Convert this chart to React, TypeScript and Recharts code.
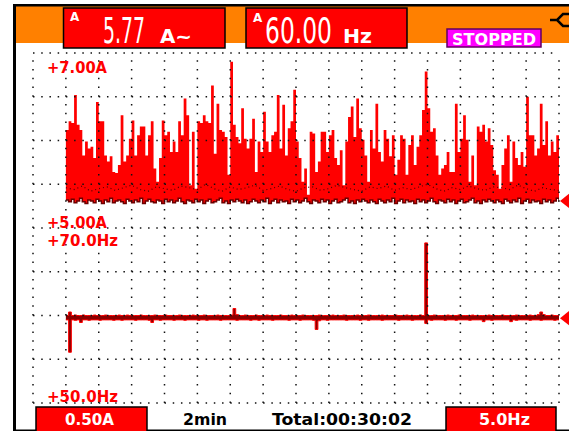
import React from "react";
import {
  ComposedChart,
  Area,
  Line,
  XAxis,
  YAxis,
  ReferenceLine,
  ReferenceDot,
} from "recharts";

// one sample every 10 s, 30 min record
const SAMPLE_SEC = 10;

// current envelope (A): max and min per sample
const AMP_MAX = [
  6.12, 6.22, 6.2, 6.52, 6.18, 6.12, 5.83, 5.99, 5.91, 5.93,
  5.8, 6.44, 6.22, 6.22, 5.83, 5.76, 5.82, 5.64, 5.63, 5.72,
  6.29, 5.76, 5.83, 6.02, 6.23, 5.83, 6.06, 6.16, 6.16, 5.83,
  6.06, 6.22, 5.68, 5.53, 5.8, 6.23, 6.06, 6.1, 5.87, 5.99,
  5.87, 6.22, 6.06, 6.48, 6.29, 5.49, 6.1, 5.45, 6.22, 6.2,
  6.29, 6.22, 6.2, 6.63, 5.85, 6.42, 6.12, 6.1, 6.04, 5.61,
  6.9, 6.18, 6.04, 5.97, 6.37, 6.02, 5.91, 6.02, 6.25, 5.64,
  5.99, 5.87, 6.33, 5.99, 5.87, 6.06, 6.1, 6.52, 5.91, 6.41,
  5.83, 6.14, 6.22, 6.58, 5.99, 5.8, 5.53, 5.68, 5.38, 6.1,
  6.08, 5.64, 5.76, 6.1, 6.1, 5.87, 6.06, 6.12, 5.8, 5.72,
  5.89, 5.49, 5.99, 6.27, 6.39, 6.04, 6.48, 6.14, 6.01, 5.83,
  5.53, 6.12, 5.91, 6.42, 5.87, 5.76, 6.12, 6.02, 5.82, 6.06,
  5.61, 5.78, 6.06, 6.02, 5.61, 5.95, 6.06, 5.72, 5.93, 6.06,
  6.35, 6.79, 6.37, 6.1, 6.14, 5.83, 5.61, 5.68, 5.72, 5.87,
  5.64, 5.64, 6.42, 5.87, 6.02, 6.29, 6.01, 5.53, 5.83, 5.49,
  6.16, 6.1, 6.18, 5.99, 6.14, 5.95, 5.66, 5.61, 5.45, 5.72,
  5.91, 6.06, 5.53, 5.99, 5.8, 5.72, 5.87, 5.7, 6.5, 6.06,
  6.06, 5.83, 5.91, 6.42, 5.95, 6.22, 5.83, 5.99, 5.87, 6.06,
  5.76,
];

const AMP_MIN = [
  5.32, 5.3, 5.33, 5.29, 5.31, 5.34, 5.3, 5.28, 5.32, 5.31,
  5.29, 5.33, 5.31, 5.28, 5.32, 5.3, 5.34, 5.29, 5.31, 5.32,
  5.3, 5.28, 5.33, 5.31, 5.29, 5.32, 5.3, 5.34, 5.28, 5.31,
  5.33, 5.3, 5.29, 5.32, 5.31, 5.28, 5.33, 5.3, 5.32, 5.29,
  5.31, 5.34, 5.3, 5.28, 5.32, 5.31, 5.29, 5.33, 5.3, 5.32,
  5.28, 5.31, 5.33, 5.29, 5.3, 5.32, 5.34, 5.29, 5.31, 5.28,
  5.32, 5.3, 5.33, 5.31, 5.29, 5.32, 5.28, 5.3, 5.33, 5.31,
  5.29, 5.32, 5.3, 5.34, 5.28, 5.31, 5.33, 5.29, 5.32, 5.3,
  5.31, 5.28, 5.33, 5.3, 5.32, 5.29, 5.31, 5.34, 5.3, 5.28,
  5.32, 5.31, 5.29, 5.33, 5.3, 5.32, 5.28, 5.31, 5.33, 5.29,
  5.3, 5.32, 5.34, 5.29, 5.31, 5.28, 5.32, 5.3, 5.33, 5.31,
  5.29, 5.32, 5.3, 5.28, 5.33, 5.31, 5.29, 5.32, 5.3, 5.34,
  5.28, 5.31, 5.33, 5.29, 5.32, 5.3, 5.31, 5.28, 5.33, 5.3,
  5.32, 5.29, 5.31, 5.34, 5.3, 5.28, 5.32, 5.31, 5.29, 5.33,
  5.3, 5.32, 5.28, 5.31, 5.33, 5.29, 5.3, 5.32, 5.34, 5.29,
  5.31, 5.28, 5.32, 5.3, 5.33, 5.31, 5.29, 5.32, 5.3, 5.28,
  5.33, 5.31, 5.29, 5.32, 5.3, 5.34, 5.28, 5.31, 5.33, 5.29,
  5.32, 5.3, 5.31, 5.28, 5.33, 5.3, 5.32, 5.29, 5.31, 5.34,
  5.3,
];

// average current, one value every 3rd sample
const AMP_AVG = [
  5.46, 5.44, 5.48, 5.42, 5.45, 5.47, 5.43, 5.46, 5.49, 5.44,
  5.42, 5.47, 5.45, 5.43, 5.48, 5.46, 5.44, 5.5, 5.45, 5.42,
  5.47, 5.44, 5.46, 5.49, 5.43, 5.45, 5.48, 5.44, 5.42, 5.46,
  5.47, 5.43, 5.45, 5.49, 5.46, 5.44, 5.42, 5.47, 5.45, 5.48,
  5.43, 5.46, 5.44, 5.47, 5.5, 5.45, 5.42, 5.46, 5.44, 5.48,
  5.45, 5.43, 5.47, 5.46, 5.44, 5.49, 5.45, 5.42, 5.46, 5.44,
  5.43,
];

// frequency envelope (Hz)
const HZ_MAX = [
  60.0, 60.4, 60.0, 60.05, 60.0, 60.0, 60.05, 60.0, 60.0, 60.0,
  60.05, 60.0, 60.0, 60.0, 60.05, 60.0, 60.0, 60.0, 60.0, 60.05,
  60.0, 60.0, 60.05, 60.0, 60.0, 60.0, 60.0, 60.05, 60.0, 60.0,
  60.0, 60.0, 60.05, 60.0, 60.0, 60.0, 60.05, 60.0, 60.0, 60.0,
  60.0, 60.05, 60.0, 60.0, 60.0, 60.0, 60.05, 60.0, 60.0, 60.0,
  60.05, 60.0, 60.0, 60.0, 60.0, 60.05, 60.0, 60.0, 60.0, 60.0,
  60.05, 60.8, 60.1, 60.0, 60.0, 60.05, 60.0, 60.0, 60.0, 60.05,
  60.0, 60.0, 60.0, 60.05, 60.0, 60.0, 60.0, 60.0, 60.05, 60.0,
  60.0, 60.0, 60.05, 60.0, 60.0, 60.0, 60.05, 60.0, 60.0, 60.0,
  60.0, 60.0, 60.05, 60.0, 60.0, 60.0, 60.0, 60.05, 60.0, 60.0,
  60.0, 60.05, 60.0, 60.0, 60.0, 60.0, 60.05, 60.0, 60.0, 60.0,
  60.05, 60.0, 60.0, 60.0, 60.0, 60.05, 60.0, 60.0, 60.0, 60.0,
  60.05, 60.0, 60.0, 60.0, 60.05, 60.0, 60.0, 60.0, 60.0, 60.05,
  60.0, 68.3, 60.0, 60.0, 60.05, 60.0, 60.0, 60.0, 60.0, 60.05,
  60.0, 60.0, 60.0, 60.05, 60.0, 60.0, 60.0, 60.0, 60.05, 60.0,
  60.0, 60.0, 60.0, 60.0, 60.05, 60.0, 60.0, 60.0, 60.0, 60.05,
  60.0, 60.0, 60.0, 60.0, 60.05, 60.0, 60.0, 60.0, 60.0, 60.05,
  60.0, 60.0, 60.1, 60.4, 60.1, 60.0, 60.0, 60.05, 60.0, 60.0,
  60.0,
];

const HZ_MIN = [
  59.5, 55.8, 59.5, 59.45, 59.5, 59.2, 59.5, 59.5, 59.45, 59.5,
  59.5, 59.5, 59.45, 59.5, 59.5, 59.5, 59.5, 59.45, 59.5, 59.5,
  59.45, 59.5, 59.5, 59.5, 59.5, 59.45, 59.5, 59.5, 59.5, 59.5,
  59.45, 59.2, 59.5, 59.5, 59.45, 59.5, 59.5, 59.5, 59.5, 59.45,
  59.5, 59.5, 59.5, 59.45, 59.5, 59.5, 59.5, 59.5, 59.45, 59.5,
  59.5, 59.45, 59.5, 59.5, 59.5, 59.5, 59.45, 59.5, 59.5, 59.5,
  59.5, 59.5, 59.45, 59.5, 59.5, 59.5, 59.5, 59.45, 59.5, 59.5,
  59.45, 59.5, 59.5, 59.5, 59.5, 59.45, 59.5, 59.5, 59.5, 59.5,
  59.5, 59.45, 59.5, 59.5, 59.5, 59.45, 59.5, 59.5, 59.5, 59.5,
  59.45, 58.4, 59.4, 59.5, 59.5, 59.45, 59.5, 59.5, 59.5, 59.5,
  59.5, 59.5, 59.45, 59.5, 59.5, 59.5, 59.5, 59.45, 59.5, 59.5,
  59.45, 59.5, 59.5, 59.5, 59.5, 59.45, 59.5, 59.5, 59.5, 59.5,
  59.5, 59.45, 59.5, 59.5, 59.5, 59.5, 59.45, 59.5, 59.5, 59.5,
  59.5, 59.1, 59.5, 59.45, 59.5, 59.5, 59.5, 59.5, 59.45, 59.5,
  59.5, 59.5, 59.45, 59.5, 59.5, 59.5, 59.5, 59.45, 59.5, 59.5,
  59.5, 59.5, 59.3, 59.5, 59.5, 59.45, 59.5, 59.5, 59.5, 59.5,
  59.5, 59.5, 59.3, 59.5, 59.45, 59.5, 59.5, 59.5, 59.5, 59.45,
  59.5, 59.5, 59.5, 59.45, 59.5, 59.5, 59.5, 59.5, 59.45, 59.5,
  59.5,
];

// grid: 0.50 A/div and 5 Hz/div vertically, 2 min/div horizontally
const AMP_GRID = [3.0, 3.5, 4.0, 4.5, 5.0, 5.5, 6.0, 6.5, 7.0];
const TIME_GRID = [-2, 0, 2, 4, 6, 8, 10, 12, 14, 16, 18, 20, 22, 24, 26, 28, 30];
const AMP_DOMAIN = [3.0, 7.0];
const HZ_DOMAIN = [50, 90];
const TIME_DOMAIN = [-2, 30];

// right edge level markers
const AMP_MARK = 5.31;
const HZ_MARK = 59.7;

const RED = "#ff0000";
const ORANGE = "#ff8000";
const FONT = "DejaVu Sans, sans-serif";

const rows = AMP_MAX.map((hi, i) => ({
  t: (i * SAMPLE_SEC) / 60,
  amp: [AMP_MIN[i], hi],
  ampMin: AMP_MIN[i],
  avg: i % 3 === 0 ? AMP_AVG[i / 3] : null,
  hz: [HZ_MIN[i], HZ_MAX[i]],
}));

const marker = (props: any) => {
  const { cx, cy } = props;
  return (
    <path
      d={`M${cx + 1},${cy} L${cx + 11},${cy - 8} L${cx + 11},${cy + 8} Z`}
      fill={RED}
    />
  );
};

function Txt({ x, y, size, len, fill = "#fff", bold = true, children }: any) {
  return (
    <text
      x={x}
      y={y}
      fontSize={size}
      fontFamily={FONT}
      fontWeight={bold ? "bold" : "normal"}
      fill={fill}
      textLength={len}
      lengthAdjust={len ? "spacingAndGlyphs" : undefined}
    >
      {children}
    </text>
  );
}

// tall narrow readout digits: drawn small, stretched vertically
function BigDigits({ x, y, len, children }: any) {
  return (
    <g transform={`translate(${x},${y}) scale(1,1.6)`}>
      <text
        x={0}
        y={0}
        fontSize={22.5}
        fontFamily={FONT}
        fill="#fff"
        textLength={len}
        lengthAdjust="spacingAndGlyphs"
      >
        {children}
      </text>
    </g>
  );
}

export default function App() {
  return (
    <div style={{ position: "fixed", left: 0, top: 0, width: 569, height: 431, background: "#fff" }}>
      <ComposedChart
        width={569}
        height={431}
        data={rows}
        margin={{ top: 53, right: 10, bottom: 28, left: 33 }}
      >
        <XAxis type="number" dataKey="t" domain={TIME_DOMAIN} hide allowDataOverflow />
        <YAxis yAxisId="amp" domain={AMP_DOMAIN} hide allowDataOverflow />
        <YAxis yAxisId="hz" domain={HZ_DOMAIN} hide allowDataOverflow />

        <Area
          yAxisId="amp"
          dataKey="amp"
          type="stepAfter"
          fill={RED}
          fillOpacity={1}
          stroke="none"
          dot={false}
          activeDot={false}
          isAnimationActive={false}
        />
        <Line
          yAxisId="amp"
          dataKey="ampMin"
          type="stepAfter"
          stroke="#6a0000"
          strokeWidth={1.5}
          dot={false}
          activeDot={false}
          isAnimationActive={false}
        />
        <Line
          yAxisId="amp"
          dataKey="avg"
          type="linear"
          connectNulls
          stroke="#4a0000"
          strokeWidth={1.2}
          strokeDasharray="1 3"
          dot={false}
          activeDot={false}
          isAnimationActive={false}
        />
        <Area
          yAxisId="hz"
          dataKey="hz"
          type="stepAfter"
          fill="#8a0000"
          fillOpacity={1}
          stroke={RED}
          strokeWidth={1}
          dot={false}
          activeDot={false}
          isAnimationActive={false}
        />

        {AMP_GRID.map((v) => (
          <ReferenceLine
            key={"h" + v}
            yAxisId="amp"
            y={v}
            stroke="#111"
            strokeWidth={1.5}
            strokeDasharray="1.5 6.719"
            zIndex={1500}
          />
        ))}
        {TIME_GRID.map((v) => (
          <ReferenceLine
            key={"v" + v}
            yAxisId="amp"
            x={v}
            stroke="#111"
            strokeWidth={1.5}
            strokeDasharray="1.5 7.25"
            zIndex={1500}
          />
        ))}

        <ReferenceDot yAxisId="amp" x={30} y={AMP_MARK} shape={marker} ifOverflow="visible" zIndex={1600} />
        <ReferenceDot yAxisId="hz" x={30} y={HZ_MARK} shape={marker} ifOverflow="visible" zIndex={1600} />
      </ComposedChart>

      <svg width={569} height={431} style={{ position: "absolute", left: 0, top: 0, pointerEvents: "none" }}>
        {/* frame and header band */}
        <rect x={16} y={6} width={553} height={37} fill={ORANGE} />
        <rect x={13} y={4} width={556} height={2.5} fill="#000" />
        <rect x={13} y={4} width={3} height={427} fill="#000" />
        <rect x={13} y={429.5} width={556} height={1.5} fill="#000" />

        {/* readouts */}
        <rect x={63.5} y={8} width={161.5} height={40} fill={RED} stroke="#000" strokeWidth={1.5} />
        <Txt x={70} y={21} size={12}>A</Txt>
        <BigDigits x={103} y={43} len={42}>5.77</BigDigits>
        <Txt x={160} y={43} size={19} len={32}>A~</Txt>

        <rect x={246} y={8} width={161} height={40} fill={RED} stroke="#000" strokeWidth={1.5} />
        <Txt x={253} y={22} size={12}>A</Txt>
        <BigDigits x={265} y={43} len={67}>60.00</BigDigits>
        <Txt x={343} y={43} size={20} len={29}>Hz</Txt>

        <rect x={447} y={29} width={94} height={18} fill="#ff00ff" stroke="#600060" strokeWidth={1.5} />
        <Txt x={452} y={45} size={16} len={84}>STOPPED</Txt>

        <path d="M550 20 H557 M569 14 H563 L557 20 L563 26 H569" stroke="#000" strokeWidth={2.5} fill="none" />

        {/* scale labels */}
        <Txt x={47} y={73} size={15} len={60} fill={RED}>+7.00A</Txt>
        <Txt x={47} y={228} size={15} len={60} fill={RED}>+5.00A</Txt>
        <Txt x={47} y={246} size={15} len={71} fill={RED}>+70.0Hz</Txt>
        <Txt x={47} y={402} size={15} len={71} fill={RED}>+50.0Hz</Txt>

        {/* bottom bar */}
        <rect x={36} y={407} width={111} height={25} fill={RED} stroke="#000" strokeWidth={1.5} />
        <Txt x={65} y={425} size={16} len={49}>0.50A</Txt>
        <Txt x={183} y={425} size={16} len={44} fill="#000">2min</Txt>
        <Txt x={272} y={425} size={16} len={140} fill="#000">Total:00:30:02</Txt>
        <rect x={446} y={407} width={110} height={25} fill={RED} stroke="#000" strokeWidth={1.5} />
        <Txt x={479} y={425} size={16} len={51}>5.0Hz</Txt>
      </svg>
    </div>
  );
}
